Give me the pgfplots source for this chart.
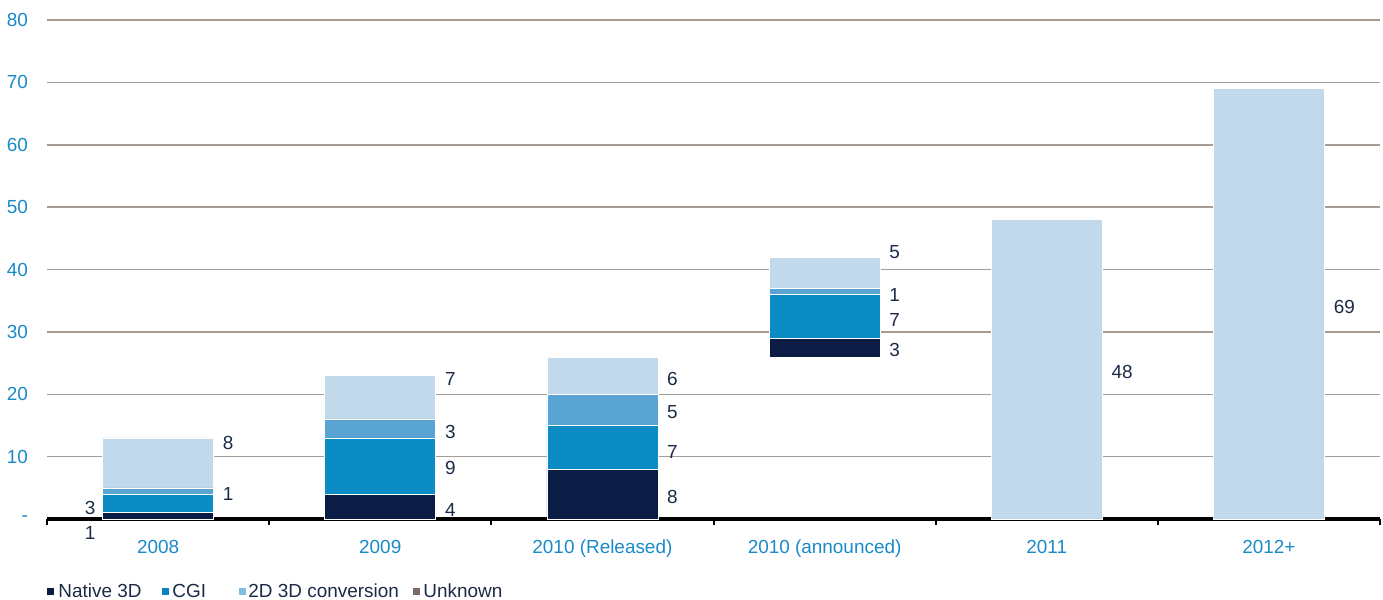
\documentclass[border=0pt]{standalone}
\usepackage{fontspec}
\setmainfont{Liberation Sans}
\usepackage{pgfplots}
\pgfplotsset{compat=1.18}

\definecolor{navy}{HTML}{0B1D45}
\definecolor{cgi}{HTML}{0B8CC5}
\definecolor{conv}{HTML}{5AA4D3}
\definecolor{unk}{HTML}{C2D9EC}
\definecolor{legcgi}{HTML}{0A83C0}
\definecolor{legconv}{HTML}{7FBDE0}
\definecolor{legunk}{HTML}{7B6B62}
\definecolor{gridc}{HTML}{A59D95}
\definecolor{tickblue}{HTML}{1A8AC8}
\definecolor{labc}{HTML}{1B2A47}

\begin{document}
\begin{tikzpicture}[font=\fontsize{9.5}{11}\selectfont]
\path[use as bounding box] (-23.5bp,-40.5bp) rectangle (668bp,259.5bp);
\begin{axis}[
    at={(0,0)}, anchor=south west,
    scale only axis, width=666.5bp, height=249.5bp,
    xmin=-0.5, xmax=5.5, ymin=0, ymax=80,
    ybar stacked, bar width=0.5,
    axis line style={draw=none},
    clip=false,
    tick pos=left,
    xtick={0,...,5},
    xticklabels={2008,2009,{2010 (Released)},{2010 (announced)},2011,2012+},
    minor xtick={-0.5,0.5,1.5,2.5,3.5,4.5,5.5},
    tick align=outside,
    major tick length=0pt, minor tick length=3bp,
    minor tick style={black, line width=1bp},
    ytick={0,10,...,80},
    yticklabels={-,10,20,30,40,50,60,70,80},
    ymajorgrids, grid style={gridc, line width=0.75bp},
    extra y ticks={0}, extra y tick labels={},
    extra y tick style={grid style={black, line width=2bp}},
    ticklabel style={text=tickblue},
    yticklabel style={xshift=-6bp},
    xticklabel style={yshift=-7bp},
    /pgf/number format/assume math mode=true,
]
% invisible base for the floating bar
\addplot[draw=none, fill=none] coordinates {(0,0) (1,0) (2,0) (3,26) (4,0) (5,0)};
% Native 3D
\addplot[fill=navy, draw=white, line width=0.3pt] coordinates {(0,1) (1,4) (2,8) (3,3) (4,0) (5,0)};
% CGI
\addplot[fill=cgi, draw=white, line width=0.3pt] coordinates {(0,3) (1,9) (2,7) (3,7) (4,0) (5,0)};
% 2D 3D conversion
\addplot[fill=conv, draw=white, line width=0.3pt] coordinates {(0,1) (1,3) (2,5) (3,1) (4,0) (5,0)};
% Unknown
\addplot[fill=unk, draw=white, line width=0.3pt] coordinates {(0,8) (1,7) (2,6) (3,5) (4,48) (5,69)};

\tikzset{lbl/.style={text=labc, inner sep=0pt}}
% 2008
\node[lbl, anchor=west] at (axis cs:0.29,12.2) {8};
\node[lbl, anchor=west] at (axis cs:0.29,4.0) {1};
\node[lbl, anchor=east] at (axis cs:-0.28,1.8) {3};
\node[lbl, anchor=east] at (axis cs:-0.28,-2.2) {1};
% 2009
\node[lbl, anchor=west] at (axis cs:1.29,22.4) {7};
\node[lbl, anchor=west] at (axis cs:1.29,13.9) {3};
\node[lbl, anchor=west] at (axis cs:1.29,8.2) {9};
\node[lbl, anchor=west] at (axis cs:1.29,1.4) {4};
% 2010 released
\node[lbl, anchor=west] at (axis cs:2.29,22.4) {6};
\node[lbl, anchor=west] at (axis cs:2.29,17.1) {5};
\node[lbl, anchor=west] at (axis cs:2.29,10.7) {7};
\node[lbl, anchor=west] at (axis cs:2.29,3.5) {8};
% 2010 announced
\node[lbl, anchor=west] at (axis cs:3.29,42.8) {5};
\node[lbl, anchor=west] at (axis cs:3.29,35.9) {1};
\node[lbl, anchor=west] at (axis cs:3.29,31.9) {7};
\node[lbl, anchor=west] at (axis cs:3.29,27.1) {3};
% 2011, 2012+
\node[lbl, anchor=west] at (axis cs:4.29,23.6) {48};
\node[lbl, anchor=west] at (axis cs:5.29,34.0) {69};
\end{axis}

% legend
\fill[navy] (0bp,-37.75bp) rectangle (3.5bp,-34.25bp);
\node[text=labc, anchor=west, inner sep=0pt] at (5.5bp,-36bp) {Native 3D};
\fill[legcgi] (57.5bp,-37.75bp) rectangle (61bp,-34.25bp);
\node[text=labc, anchor=west, inner sep=0pt] at (62.5bp,-36bp) {CGI};
\fill[legconv] (96bp,-37.75bp) rectangle (99.5bp,-34.25bp);
\node[text=labc, anchor=west, inner sep=0pt] at (100.5bp,-36bp) {2D 3D conversion};
\fill[legunk] (183bp,-37.75bp) rectangle (186.5bp,-34.25bp);
\node[text=labc, anchor=west, inner sep=0pt] at (188bp,-36bp) {Unknown};
\end{tikzpicture}
\end{document}
